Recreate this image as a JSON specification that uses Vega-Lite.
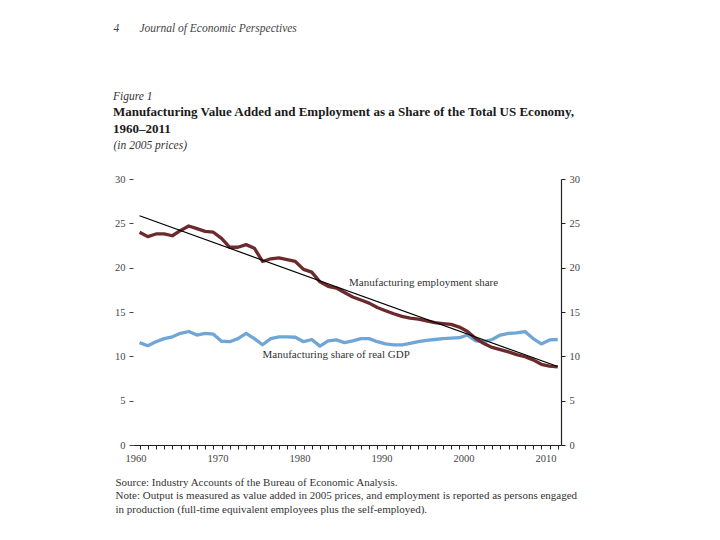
{
  "$schema": "https://vega.github.io/schema/vega-lite/v6.json",
  "width": 428,
  "height": 266,
  "autosize": {"type": "none"},
  "padding": {"left": 133, "top": 179, "right": 159, "bottom": 95},
  "background": "white",
  "config": {
    "font": "Liberation Serif",
    "view": {"stroke": null},
    "axis": {"grid": false, "labelFont": "Liberation Serif", "titleFont": "Liberation Serif"}
  },
  "title": {
    "text": "Figure 1",
    "subtitle": ["Manufacturing Value Added and Employment as a Share of the Total US Economy,", "1960–2011"],
    "anchor": "start",
    "frame": "group",
    "dx": -20,
    "offset": -114,
    "font": "Liberation Serif",
    "fontSize": 11.5,
    "fontStyle": "italic",
    "fontWeight": "normal",
    "lineHeight": 13.4,
    "color": "#333333",
    "subtitleFont": "Liberation Serif",
    "subtitleFontSize": 13,
    "subtitleFontWeight": "bold",
    "subtitleLineHeight": 17,
    "subtitleColor": "#1a1a1a",
    "subtitlePadding": 4
  },
  "datasets": {
    "emp": [
      {"year": 1960, "share": 24.0}, {"year": 1961, "share": 23.5}, {"year": 1962, "share": 23.8},
      {"year": 1963, "share": 23.8}, {"year": 1964, "share": 23.6}, {"year": 1965, "share": 24.2},
      {"year": 1966, "share": 24.7}, {"year": 1967, "share": 24.4}, {"year": 1968, "share": 24.1},
      {"year": 1969, "share": 24.0}, {"year": 1970, "share": 23.3}, {"year": 1971, "share": 22.3},
      {"year": 1972, "share": 22.3}, {"year": 1973, "share": 22.6}, {"year": 1974, "share": 22.2},
      {"year": 1975, "share": 20.7}, {"year": 1976, "share": 21.0}, {"year": 1977, "share": 21.1},
      {"year": 1978, "share": 20.9}, {"year": 1979, "share": 20.7}, {"year": 1980, "share": 19.8},
      {"year": 1981, "share": 19.5}, {"year": 1982, "share": 18.4}, {"year": 1983, "share": 17.9},
      {"year": 1984, "share": 17.7}, {"year": 1985, "share": 17.2}, {"year": 1986, "share": 16.7},
      {"year": 1987, "share": 16.35}, {"year": 1988, "share": 16.0}, {"year": 1989, "share": 15.5},
      {"year": 1990, "share": 15.15}, {"year": 1991, "share": 14.8}, {"year": 1992, "share": 14.5},
      {"year": 1993, "share": 14.3}, {"year": 1994, "share": 14.2}, {"year": 1995, "share": 14.0},
      {"year": 1996, "share": 13.8}, {"year": 1997, "share": 13.7}, {"year": 1998, "share": 13.6},
      {"year": 1999, "share": 13.3}, {"year": 2000, "share": 12.8}, {"year": 2001, "share": 12.0},
      {"year": 2002, "share": 11.45}, {"year": 2003, "share": 11.0}, {"year": 2004, "share": 10.75},
      {"year": 2005, "share": 10.5}, {"year": 2006, "share": 10.2}, {"year": 2007, "share": 9.95},
      {"year": 2008, "share": 9.6}, {"year": 2009, "share": 9.1}, {"year": 2010, "share": 8.9},
      {"year": 2011, "share": 8.8}
    ],
    "gdp": [
      {"year": 1960, "share": 11.55}, {"year": 1961, "share": 11.2}, {"year": 1962, "share": 11.65},
      {"year": 1963, "share": 12.0}, {"year": 1964, "share": 12.2}, {"year": 1965, "share": 12.6},
      {"year": 1966, "share": 12.8}, {"year": 1967, "share": 12.4}, {"year": 1968, "share": 12.6},
      {"year": 1969, "share": 12.5}, {"year": 1970, "share": 11.7}, {"year": 1971, "share": 11.65},
      {"year": 1972, "share": 12.0}, {"year": 1973, "share": 12.6}, {"year": 1974, "share": 12.0},
      {"year": 1975, "share": 11.3}, {"year": 1976, "share": 12.0}, {"year": 1977, "share": 12.2},
      {"year": 1978, "share": 12.2}, {"year": 1979, "share": 12.15}, {"year": 1980, "share": 11.65},
      {"year": 1981, "share": 11.9}, {"year": 1982, "share": 11.15}, {"year": 1983, "share": 11.75},
      {"year": 1984, "share": 11.85}, {"year": 1985, "share": 11.55}, {"year": 1986, "share": 11.75},
      {"year": 1987, "share": 12.0}, {"year": 1988, "share": 12.0}, {"year": 1989, "share": 11.65},
      {"year": 1990, "share": 11.4}, {"year": 1991, "share": 11.3}, {"year": 1992, "share": 11.3},
      {"year": 1993, "share": 11.45}, {"year": 1994, "share": 11.65}, {"year": 1995, "share": 11.8},
      {"year": 1996, "share": 11.9}, {"year": 1997, "share": 12.0}, {"year": 1998, "share": 12.05},
      {"year": 1999, "share": 12.1}, {"year": 2000, "share": 12.4}, {"year": 2001, "share": 11.75},
      {"year": 2002, "share": 11.65}, {"year": 2003, "share": 11.9}, {"year": 2004, "share": 12.4},
      {"year": 2005, "share": 12.6}, {"year": 2006, "share": 12.65}, {"year": 2007, "share": 12.8},
      {"year": 2008, "share": 12.0}, {"year": 2009, "share": 11.4}, {"year": 2010, "share": 11.85},
      {"year": 2011, "share": 11.9}
    ],
    "trend": [
      {"year": 1960, "share": 25.85},
      {"year": 2011, "share": 8.85}
    ],
    "labels": [
      {"year": 1985.55, "share": 18.26, "label": "Manufacturing employment share"},
      {"year": 1975.0, "share": 10.15, "label": "Manufacturing share of real GDP"}
    ]
  },
  "resolve": {"axis": {"y": "independent"}},
  "layer": [
    {
      "data": {"name": "gdp"},
      "mark": {"type": "line", "color": "#6fa6d6", "strokeWidth": 3.3, "strokeJoin": "round"},
      "encoding": {
        "x": {
          "field": "year", "type": "quantitative",
          "scale": {"domain": [1959.2, 2011.4], "nice": false, "zero": false},
          "axis": {
            "values": [1960,1961,1962,1963,1964,1965,1966,1967,1968,1969,1970,1971,1972,1973,1974,1975,1976,1977,1978,1979,1980,1981,1982,1983,1984,1985,1986,1987,1988,1989,1990,1991,1992,1993,1994,1995,1996,1997,1998,1999,2000,2001,2002,2003,2004,2005,2006,2007,2008,2009,2010,2011],
            "tickCount": 200,
            "labelExpr": "datum.value % 10 === 0 ? datum.value : ''",
            "labelFontSize": 10.5,
            "labelColor": "#444444",
            "labelPadding": 4,
            "labelOffset": -4,
            "labelFlush": false,
            "labelOverlap": false,
            "tickSize": 4,
            "tickColor": "#222222",
            "domainColor": "#222222",
            "domainWidth": 1.2,
            "title": ["Source: Industry Accounts of the Bureau of Economic Analysis.", "Note: Output is measured as value added in 2005 prices, and employment is reported as persons engaged", "in production (full-time equivalent employees plus the self-employed)."],
            "titleFontSize": 11,
            "titleFontWeight": "normal",
            "titleColor": "#333333",
            "titleAlign": "left",
            "titleAnchor": "start",
            "titleBaseline": "top",
            "titleX": -18,
            "titleY": 31,
            "titleLineHeight": 13.5
          }
        },
        "y": {
          "field": "share", "type": "quantitative",
          "scale": {"domain": [0, 30], "nice": false},
          "axis": {
            "values": [0, 5, 10, 15, 20, 25, 30],
            "domain": false,
            "tickSize": 4,
            "tickColor": "#444444",
            "labelPadding": 4,
            "labelFontSize": 10.5,
            "labelColor": "#444444",
            "title": "(in 2005 prices)",
            "titleFontSize": 11.5,
            "titleFontStyle": "italic",
            "titleFontWeight": "normal",
            "titleColor": "#333333",
            "titleAngle": 0,
            "titleAlign": "left",
            "titleBaseline": "middle",
            "titleX": -20,
            "titleY": -34
          }
        }
      }
    },
    {
      "data": {"name": "emp"},
      "mark": {"type": "line", "color": "#6d2a2c", "strokeWidth": 3.3, "strokeJoin": "round"},
      "encoding": {
        "x": {"field": "year", "type": "quantitative"},
        "y": {
          "field": "share", "type": "quantitative",
          "axis": {
            "orient": "right",
            "values": [0, 5, 10, 15, 20, 25, 30],
            "domain": true,
            "domainColor": "#222222",
            "domainWidth": 1.2,
            "tickSize": 4,
            "tickColor": "#222222",
            "labelPadding": 4,
            "labelFontSize": 10.5,
            "labelColor": "#444444",
            "title": "4\u00a0\u00a0\u00a0\u00a0\u00a0\u00a0\u00a0Journal of Economic Perspectives",
            "titleFontSize": 11.5,
            "titleFontStyle": "italic",
            "titleFontWeight": "normal",
            "titleColor": "#444444",
            "titleAngle": 0,
            "titleAlign": "left",
            "titleBaseline": "middle",
            "titleX": -448,
            "titleY": -151
          }
        }
      }
    },
    {
      "data": {"name": "trend"},
      "mark": {"type": "line", "color": "#000000", "strokeWidth": 1.2},
      "encoding": {
        "x": {"field": "year", "type": "quantitative"},
        "y": {"field": "share", "type": "quantitative", "axis": null}
      }
    },
    {
      "data": {"name": "labels"},
      "mark": {"type": "text", "align": "left", "baseline": "middle", "fontSize": 11, "color": "#333333", "font": "Liberation Serif"},
      "encoding": {
        "x": {"field": "year", "type": "quantitative"},
        "y": {"field": "share", "type": "quantitative", "axis": null},
        "text": {"field": "label"}
      }
    }
  ]
}
